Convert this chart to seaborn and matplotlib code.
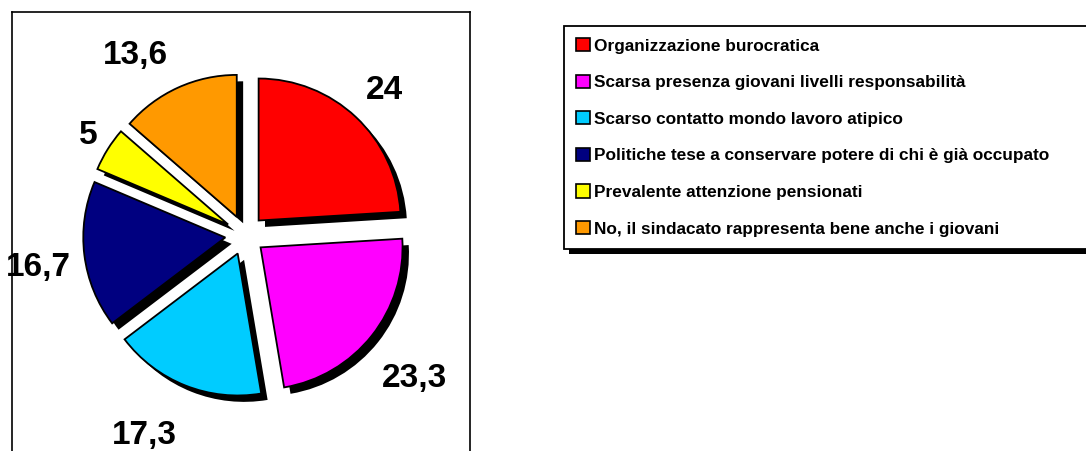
import numpy as np
import matplotlib
matplotlib.use("Agg")
import matplotlib.pyplot as plt
import seaborn as sns
from matplotlib.patches import Patch, Rectangle

# Data
categories = [
    "Organizzazione burocratica",
    "Scarsa presenza giovani livelli responsabilità",
    "Scarso contatto mondo lavoro atipico",
    "Politiche tese a conservare potere di chi è già occupato",
    "Prevalente attenzione pensionati",
    "No, il sindacato rappresenta bene anche i giovani",
]
values = [24, 23.3, 17.3, 16.7, 5, 13.6]
colors = ["#FF0000", "#FF00FF", "#00CCFF", "#000080", "#FFFF00", "#FF9900"]
value_labels = [f"{v:g}".replace(".", ",") for v in values]

sns.set_style("white")
plt.rcParams["font.family"] = ["Liberation Sans", "DejaVu Sans"]
plt.rcParams["text.color"] = "black"

fig = plt.figure(figsize=(10.86, 4.51), dpi=100)

# pie axes: box from px 12..470 wide, top at 12, bottom beyond the image
W, H = 1086, 451
ax = fig.add_axes([12 / W, 0, 458 / W, 439 / H])
R = 142.0
cx, cy = 245, 235

explode = [0.14] * len(values)

# shadow
ax.pie(values, explode=explode, startangle=90, counterclock=False,
       colors=["black"] * len(values), center=(0.045, -0.045),
       wedgeprops=dict(linewidth=0), radius=1)
# slices
wedges, _ = ax.pie(values, explode=explode, startangle=90, counterclock=False,
                   colors=colors,
                   wedgeprops=dict(edgecolor="black", linewidth=1.3),
                   radius=1)

# value labels around the pie
label_dist = [1.43, 1.55, 1.56, 1.47, 1.32, 1.50]
label_turn = [0, -1, -5.4, 0.8, -1.3, 6.3]
for w, txt, d, t in zip(wedges, value_labels, label_dist, label_turn):
    th = np.deg2rad((w.theta1 + w.theta2) / 2 + t)
    ax.text(d * np.cos(th), d * np.sin(th), txt, ha="center",
            va="center_baseline", fontsize=24, fontweight="bold",
            color="black", clip_on=False)

ax.set_xlim((12 - cx) / R, (470 - cx) / R)
ax.set_ylim((cy - 451) / R, (cy - 12) / R)
ax.set_aspect("auto")
ax.set_xticks([])
ax.set_yticks([])
ax.set_frame_on(True)
for side in ["left", "right", "top"]:
    ax.spines[side].set_visible(True)
    ax.spines[side].set_color("black")
    ax.spines[side].set_linewidth(1.2)
ax.spines["bottom"].set_visible(False)

# legend
handles = [Patch(facecolor=c, edgecolor="black", linewidth=1.2) for c in colors]
leg = fig.legend(handles, categories, loc="upper left",
                 bbox_to_anchor=(564 / W, 1 - 26 / H),
                 prop=dict(size=12.4, weight="bold"), labelcolor="black",
                 handlelength=0.8, handleheight=0.8, handletextpad=0.25,
                 labelspacing=1.22, borderpad=0.7, borderaxespad=0,
                 frameon=False)
leg.set_zorder(5)

# legend box runs past the right edge, with a black drop shadow
fig.canvas.draw()
bb = leg.get_window_extent()
box_w = W + 20 - bb.x0
shadow = Rectangle((bb.x0 + 5, bb.y0 - 5), box_w, bb.height,
                   transform=None, facecolor="black", edgecolor="none",
                   zorder=3)
frame = Rectangle((bb.x0, bb.y0), box_w, bb.height, transform=None,
                  facecolor="white", edgecolor="black", linewidth=1.3,
                  zorder=4)
fig.patches.extend([shadow, frame])

fig.savefig("out.png", dpi=100)
